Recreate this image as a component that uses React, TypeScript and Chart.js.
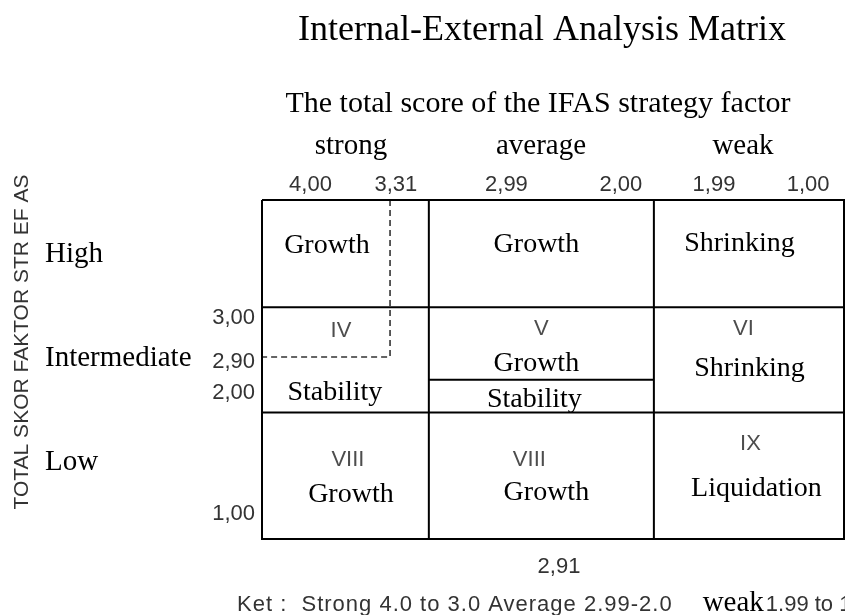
import React, { useEffect, useRef } from "react";
import { Chart, registerables } from "chart.js";

Chart.register(...registerables);

// ---------------- data ----------------
const TITLE = "Internal-External Analysis Matrix";
const X_AXIS_TITLE = "The total score of the IFAS strategy factor";
const Y_AXIS_TITLE = "TOTAL SKOR FAKTOR STR EF AS";
const IFAS_GROUPS = ["strong", "average", "weak"];
const EFAS_GROUPS = ["High", "Intermediate", "Low"];
const IFAS_TICK_LABELS = ["4,00", "3,31", "2,99", "2,00", "1,99", "1,00"];
const IFAS_TICK_AT = [3.75, 3.31, 2.74, 2.15, 1.67, 1.185];
const EFAS_TICK_LABELS = ["3,00", "2,90", "2,00", "1,00"];
const EFAS_TICK_AT = [2.96, 2.57, 2.29, 1.22];
const IFAS_EDGES = [4.0, 3.14, 1.98, 1.0];
const EFAS_EDGES = [4.0, 3.05, 2.12, 1.0];
const CELL_V_SPLIT = 2.41;
const POSITION_IFAS = 3.34;
const POSITION_EFAS = 2.61;
const POSITION_LABEL = "2,91";
const CELL_NUMBERS = ["", "", "", "IV", "V", "VI", "VIII", "VIII", "IX"];
const CELL_STRATEGIES = [
  ["Growth"],
  ["Growth"],
  ["Shrinking"],
  ["Stability"],
  ["Growth", "Stability"],
  ["Shrinking"],
  ["Growth"],
  ["Growth"],
  ["Liquidation"],
];
const NOTE_PARTS = ["Ket :  Strong 4.0 to 3.0 Average 2.99-2.0", "weak", "1.99 to 1.0"];

// ---------------- layout (pixel offsets from cell centres) ----------------
const NUM_OFFSETS: (number[] | null)[] = [
  null, null, null,
  [-4.5, -22.5], [0, -24.5], [-5.5, -24.5],
  [2.5, -9.5], [-12, -9.5], [1.5, -25.5],
];
const STRAT_OFFSETS: number[][][] = [
  [[-18.5, -0.5]],
  [[-5, -1.5]],
  [[-9.5, -2.5]],
  [[-10.5, 40.5]],
  [[-5, 11.5], [-7, 47.5]],
  [[0.5, 16.5]],
  [[5.5, 26.5]],
  [[5, 24.5]],
  [[7.5, 20.5]],
];

const SERIF = '"Liberation Serif", "Times New Roman", serif';
const SANS = '"Liberation Sans", Arial, sans-serif';

function seg(points: number[][]) {
  return points.map(([x, y]) => ({ x, y }));
}

const textPlugin = {
  id: "ieText",
  afterDraw(chart: any) {
    const ctx: CanvasRenderingContext2D = chart.ctx;
    const xs = chart.scales.x;
    const ys = chart.scales.y;
    const area = chart.chartArea;
    const px = (v: number) => xs.getPixelForValue(v);
    const py = (v: number) => ys.getPixelForValue(v);
    ctx.save();

    // titles
    ctx.fillStyle = "#000";
    ctx.textAlign = "center";
    ctx.textBaseline = "alphabetic";
    ctx.font = `36px ${SERIF}`;
    ctx.fillText(TITLE, 542, 40);
    ctx.font = `30px ${SERIF}`;
    ctx.fillText(X_AXIS_TITLE, 538, 112);

    // column group names
    ctx.font = `29px ${SERIF}`;
    const groupX = [351, 541, 743];
    IFAS_GROUPS.forEach((g, i) => ctx.fillText(g, groupX[i], 154));

    // row group names
    ctx.textAlign = "left";
    const rowBase = [262, 366, 470];
    EFAS_GROUPS.forEach((g, i) => ctx.fillText(g, 45, rowBase[i]));

    // ticks
    ctx.font = `22px ${SANS}`;
    ctx.fillStyle = "#333";
    ctx.textAlign = "center";
    ctx.textBaseline = "middle";
    IFAS_TICK_LABELS.forEach((t, i) => ctx.fillText(t, px(IFAS_TICK_AT[i]), area.top - 15.5));
    ctx.textAlign = "right";
    EFAS_TICK_LABELS.forEach((t, i) => ctx.fillText(t, area.left - 7, py(EFAS_TICK_AT[i])));

    // position value
    ctx.textAlign = "center";
    ctx.fillText(POSITION_LABEL, 559, 567);

    // rotated y axis title
    ctx.save();
    ctx.translate(22, 342);
    ctx.rotate(-Math.PI / 2);
    ctx.font = `21px ${SANS}`;
    ctx.textAlign = "center";
    ctx.textBaseline = "middle";
    ctx.fillText(Y_AXIS_TITLE, 0, 0);
    ctx.restore();

    // cell texts
    for (let r = 0; r < 3; r++) {
      for (let c = 0; c < 3; c++) {
        const i = r * 3 + c;
        const cx = (px(IFAS_EDGES[c]) + px(IFAS_EDGES[c + 1])) / 2;
        const cy = (py(EFAS_EDGES[r]) + py(EFAS_EDGES[r + 1])) / 2;
        ctx.textAlign = "center";
        ctx.textBaseline = "alphabetic";
        const no = NUM_OFFSETS[i];
        if (CELL_NUMBERS[i] && no) {
          ctx.font = `22px ${SANS}`;
          ctx.fillStyle = "#4d4d4d";
          ctx.fillText(CELL_NUMBERS[i], cx + no[0], cy + no[1]);
        }
        ctx.font = `28px ${SERIF}`;
        ctx.fillStyle = "#000";
        CELL_STRATEGIES[i].forEach((s, k) => {
          const o = STRAT_OFFSETS[i][k];
          ctx.fillText(s, cx + o[0], cy + o[1]);
        });
      }
    }

    // note
    ctx.textAlign = "left";
    ctx.textBaseline = "alphabetic";
    ctx.font = `22px ${SANS}`;
    ctx.fillStyle = "#333";
    (ctx as any).letterSpacing = "1px";
    let x = 237;
    ctx.fillText(NOTE_PARTS[0], x, 611);
    x += ctx.measureText(NOTE_PARTS[0]).width + 30;
    (ctx as any).letterSpacing = "0px";
    ctx.font = `29px ${SERIF}`;
    ctx.fillStyle = "#000";
    ctx.fillText(NOTE_PARTS[1], x, 611);
    x += ctx.measureText(NOTE_PARTS[1]).width + 2;
    ctx.font = `22px ${SANS}`;
    ctx.fillStyle = "#333";
    ctx.fillText(NOTE_PARTS[2], x, 611);

    ctx.restore();
  },
};

export default function App() {
  const ref = useRef<HTMLCanvasElement>(null);
  useEffect(() => {
    const [L, , , R] = IFAS_EDGES;
    const [T, , , B] = EFAS_EDGES;
    const solid = (data: any[]) => ({
      data,
      showLine: true,
      borderColor: "#000",
      borderWidth: 2,
      pointRadius: 0,
      fill: false,
      clip: false as any,
    });
    const datasets: any[] = [
      solid(seg([[L, T], [R, T], [R, B], [L, B], [L, T]])),
      solid(seg([[IFAS_EDGES[1], T], [IFAS_EDGES[1], B]])),
      solid(seg([[IFAS_EDGES[2], T], [IFAS_EDGES[2], B]])),
      solid(seg([[L, EFAS_EDGES[1]], [R, EFAS_EDGES[1]]])),
      solid(seg([[L, EFAS_EDGES[2]], [R, EFAS_EDGES[2]]])),
      solid(seg([[IFAS_EDGES[1], CELL_V_SPLIT], [IFAS_EDGES[2], CELL_V_SPLIT]])),
      {
        ...solid(seg([[POSITION_IFAS, T], [POSITION_IFAS, POSITION_EFAS], [L, POSITION_EFAS]])),
        borderColor: "#333",
        borderWidth: 1.6,
        borderDash: [6, 4],
      },
    ];
    const chart = new Chart(ref.current as HTMLCanvasElement, {
      type: "scatter",
      data: { datasets },
      options: {
        animation: false,
        responsive: false,
        devicePixelRatio: 1,
        layout: { padding: { left: 262, top: 200, right: 1, bottom: 76 } },
        scales: {
          x: { type: "linear", min: 1, max: 4, reverse: true, display: false },
          y: { type: "linear", min: 1, max: 4, display: false },
        },
        plugins: {
          legend: { display: false },
          tooltip: { enabled: false },
          title: { display: false },
        },
        events: [],
      },
      plugins: [textPlugin],
    } as any);
    return () => chart.destroy();
  }, []);
  return (
    <div style={{ position: "fixed", left: 0, top: 0, width: 845, height: 615, background: "#fff" }}>
      <canvas ref={ref} width={845} height={615} style={{ display: "block", width: 845, height: 615 }} />
    </div>
  );
}
